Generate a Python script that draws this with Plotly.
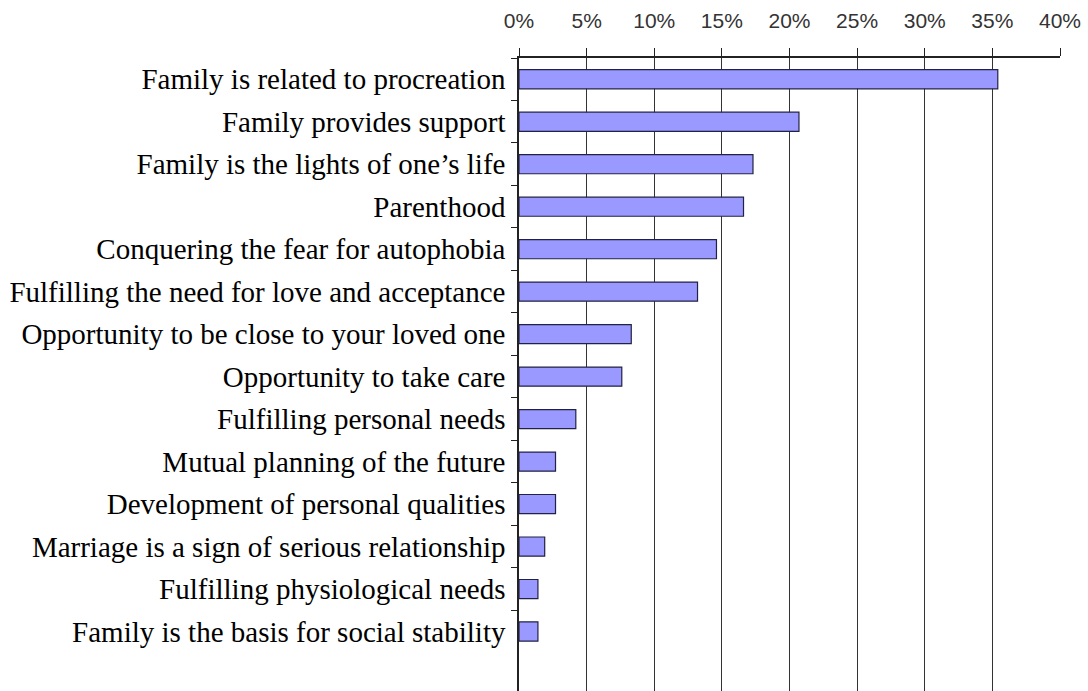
import plotly.graph_objects as go

categories = [
    "Family is related to procreation",
    "Family provides support",
    "Family is the lights of one\u2019s life",
    "Parenthood",
    "Conquering the fear for autophobia",
    "Fulfilling the need for love and acceptance",
    "Opportunity to be close to your loved one",
    "Opportunity to take care",
    "Fulfilling personal needs",
    "Mutual planning of the future",
    "Development of personal qualities",
    "Marriage is a sign of serious relationship",
    "Fulfilling physiological needs",
    "Family is the basis for social stability",
]
values = [35.4, 20.7, 17.3, 16.6, 14.6, 13.2, 8.3, 7.6, 4.2, 2.7, 2.7, 1.9, 1.4, 1.4]
tick_vals = [0, 5, 10, 15, 20, 25, 30, 35, 40]
tick_text = ["0%", "5%", "10%", "15%", "20%", "25%", "30%", "35%", "40%"]

fig = go.Figure(
    go.Bar(
        x=values,
        y=categories,
        orientation="h",
        width=0.45,
        marker=dict(color="#9999FF", line=dict(color="#222244", width=1.2)),
    )
)

fig.update_layout(
    width=1088,
    height=691,
    margin=dict(l=519, r=28, t=58, b=0),
    paper_bgcolor="white",
    plot_bgcolor="white",
    showlegend=False,
)

fig.update_xaxes(
    side="top",
    range=[0, 40],
    tickvals=tick_vals,
    ticktext=tick_text,
    showgrid=True,
    gridcolor="#333333",
    gridwidth=1,
    showline=True,
    linecolor="#222222",
    linewidth=1.5,
    ticks="outside",
    ticklen=8,
    tickcolor="#222222",
    ticklabelstandoff=12,
    tickfont=dict(family="Liberation Sans, Arial", size=21, color="#333333"),
    zeroline=False,
)

fig.update_yaxes(
    type="category",
    categoryorder="array",
    categoryarray=categories,
    range=[len(categories) - 0.5 + 0.9, -0.5],
    showline=True,
    linecolor="#222222",
    linewidth=1.5,
    ticks="outside",
    tickson="boundaries",
    ticklen=6,
    tickcolor="#222222",
    ticklabelstandoff=6,
    showgrid=False,
    tickfont=dict(family="Liberation Serif, Times New Roman", size=29, color="#000000"),
)

fig.write_html("out.html")
